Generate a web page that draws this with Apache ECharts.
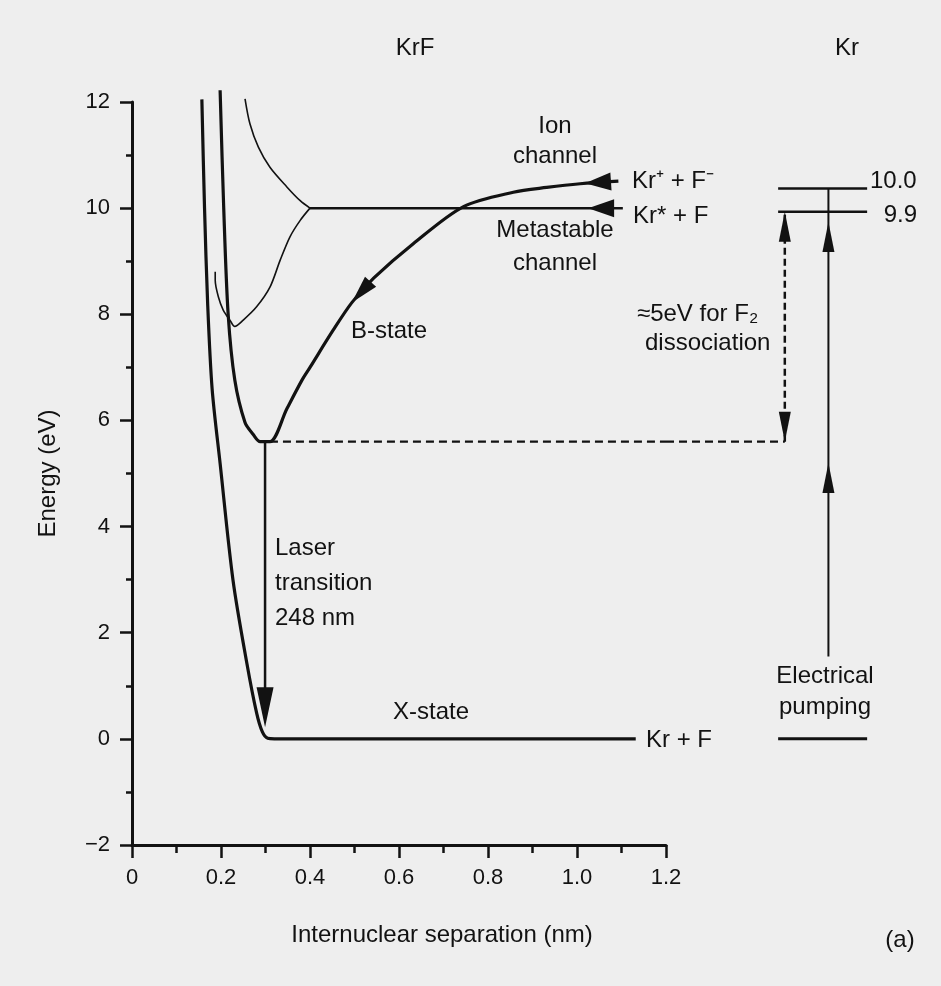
<!DOCTYPE html>
<html><head><meta charset="utf-8">
<script src="https://cdn.jsdelivr.net/npm/echarts/dist/echarts.min.js"></script>
<style>html,body{margin:0;padding:0;background:#eeeeee}#c{width:941px;height:986px}</style>
</head><body><div id="c"></div><script>
// ---- data (x: internuclear separation in nm, y: energy in eV) ----
const xTickLabels = ['0','0.2','0.4','0.6','0.8','1.0','1.2'];
const yTickLabels = ['\u22122','0','2','4','6','8','10','12'];

const xStateCurve = [[0.157,12.05],[0.163,10.0],[0.170,8.2],[0.180,6.6],[0.198,5.19],[0.227,2.99],[0.258,1.43],[0.280,0.49],[0.293,0.13],[0.305,0.01],[0.32,0],[1.132,0]];
const bStateCurve = [[0.198,12.22],[0.206,10.03],[0.216,8.01],[0.231,6.76],[0.254,5.96],[0.272,5.74],[0.288,5.6],[0.31,5.6],[0.348,6.22],[0.382,6.76],[0.4,7.0],[0.452,7.7],[0.494,8.22],[0.543,8.68],[0.632,9.33],[0.745,10.03],[0.857,10.3],[0.932,10.39],[1.007,10.46],[1.093,10.51]];
const upperThinCurve = [[0.254,12.06],[0.265,11.59],[0.284,11.15],[0.310,10.77],[0.348,10.4],[0.378,10.14],[0.4,10.0]];
const lowerThinCurve = [[0.187,8.8],[0.187,8.64],[0.194,8.33],[0.205,8.08],[0.220,7.89],[0.231,7.77],[0.250,7.89],[0.280,8.14],[0.310,8.51],[0.333,9.02],[0.355,9.46],[0.378,9.77],[0.4,10.0]];
const metastableLine = [[0.4,10.0],[1.103,10.0]];
const bMinDashedKrF = [[0.31,5.6],[1.2,5.6]];
const bMinDashedKr = [[1.2,5.6],[1.467,5.6]];
const laserTransition = [[0.299,5.6],[0.299,0.6]];
const krGround = [[1.452,0],[1.652,0]];
const krLevel99 = [[1.452,9.93],[1.652,9.93]];
const krLevel100 = [[1.452,10.37],[1.652,10.37]];
const dissociationArrow = [[1.467,5.6],[1.467,9.93]];
const pumpingArrow = [[1.565,1.55],[1.565,10.37]];
// arrow heads: [tipX, tipY, fromX, fromY]
const arrowHeads = [
  [0.299,0.22,0.299,5.6],
  [0.494,8.22,0.55,8.74],
  [1.018,10.47,1.09,10.51],
  [1.025,10.0,1.1,10.0],
  [1.467,9.93,1.467,5.6],
  [1.467,5.6,1.467,9.93],
  [1.565,9.74,1.565,1.55],
  [1.565,5.2,1.565,1.55]
];

// ---- styles ----
const INK = '#121212';
const FONT = '"Liberation Sans", Arial, Helvetica, sans-serif';
const arrowSize = [[40,17],[28,15],[26,18],[26,18],[30,12],[30,12],[30,12],[30,12]];

function lineSeries(data, width, opts) {
  return Object.assign({
    type: 'line', data: data, symbol: 'none', clip: false, silent: true,
    lineStyle: { color: INK, width: width }, z: 3
  }, opts || {});
}
function krSeries(data, width, opts) {
  return lineSeries(data, width, Object.assign({ xAxisIndex: 1, yAxisIndex: 1 }, opts || {}));
}

function txt(text, x, y, align, extra) {
  return { type: 'text', x: x, y: y, silent: true, style: Object.assign({
    text: text, fill: INK, fontSize: 24, fontFamily: FONT,
    align: align || 'center', verticalAlign: 'middle',
    textAlign: align || 'center', textVerticalAlign: 'middle'
  }, extra || {}) };
}

const chart = echarts.init(document.getElementById('c'), null, { renderer: 'canvas' });
chart.setOption({
  backgroundColor: '#eeeeee',
  animation: false,
  grid: [
    { left: 132, right: 275, top: 102, bottom: 141, containLabel: false },
    { left: 666, right: 0, top: 102, bottom: 141, containLabel: false }
  ],
  xAxis: [{
    type: 'value', min: 0, max: 1.2, interval: 0.2, gridIndex: 0,
    axisLine: { onZero: false, lineStyle: { color: INK, width: 3 } },
    axisTick: { show: true, length: 13, lineStyle: { color: INK, width: 2.5 } },
    minorTick: { show: true, splitNumber: 2, length: 8, lineStyle: { color: INK, width: 2.5 } },
    splitLine: { show: false }, minorSplitLine: { show: false },
    axisLabel: { color: INK, fontSize: 22, fontFamily: FONT, margin: 22,
      formatter: v => xTickLabels[Math.round(v / 0.2)] },
    name: 'Internuclear separation (nm)', nameLocation: 'middle', nameGap: 78,
    nameTextStyle: { color: INK, fontSize: 24, fontFamily: FONT, padding: [0, 0, 0, 86] }
  }, {
    type: 'value', min: 1.2, max: 1.818, gridIndex: 1, show: false
  }],
  yAxis: [{
    type: 'value', min: -2, max: 12, interval: 2, gridIndex: 0,
    axisLine: { onZero: false, lineStyle: { color: INK, width: 3 } },
    axisTick: { show: true, length: 12, lineStyle: { color: INK, width: 2.5 } },
    minorTick: { show: true, splitNumber: 2, length: 6, lineStyle: { color: INK, width: 2.5 } },
    splitLine: { show: false }, minorSplitLine: { show: false },
    axisLabel: { color: INK, fontSize: 22, fontFamily: FONT, margin: 22,
      formatter: v => yTickLabels[Math.round((v + 2) / 2)] },
    name: 'Energy (eV)', nameLocation: 'middle', nameGap: 72,
    nameTextStyle: { color: INK, fontSize: 24, fontFamily: FONT }
  }, {
    type: 'value', min: -2, max: 12, gridIndex: 1, show: false
  }],
  series: [
    lineSeries(xStateCurve, 3.2, { smooth: 0.3 }),
    lineSeries(bStateCurve, 3.2, { smooth: 0.3 }),
    lineSeries(upperThinCurve, 1.6, { smooth: 0.3 }),
    lineSeries(lowerThinCurve, 1.6, { smooth: 0.3 }),
    lineSeries(metastableLine, 2.5),
    lineSeries(bMinDashedKrF, 2.2, { lineStyle: { color: INK, width: 2.2, type: [8, 5] } }),
    lineSeries(laserTransition, 2.5),
    krSeries(bMinDashedKr, 2.2, { lineStyle: { color: INK, width: 2.2, type: [8, 5] } }),
    krSeries(krGround, 3),
    krSeries(krLevel99, 2.5),
    krSeries(krLevel100, 2.5),
    krSeries(dissociationArrow, 2.5, { lineStyle: { color: INK, width: 2.5, type: [7, 4] } }),
    krSeries(pumpingArrow, 2),
    {
      type: 'custom', data: arrowHeads, clip: false, silent: true, z: 5,
      encode: { x: 0, y: 1 },
      renderItem: function (params, api) {
        const tip = api.coord([api.value(0), api.value(1)]);
        const from = api.coord([api.value(2), api.value(3)]);
        const s = arrowSize[params.dataIndex];
        let dx = tip[0] - from[0], dy = tip[1] - from[1];
        const d = Math.hypot(dx, dy) || 1; dx /= d; dy /= d;
        const bx = tip[0] - dx * s[0], by = tip[1] - dy * s[0];
        const px = -dy * s[1] / 2, py = dx * s[1] / 2;
        return { type: 'polygon', shape: { points: [tip, [bx + px, by + py], [bx - px, by - py]] },
          style: { fill: INK } };
      }
    }
  ],
  graphic: [
    txt('KrF', 415, 48),
    txt('Kr', 847, 48),
    txt('Ion\nchannel', 555, 141, 'center', { lineHeight: 30 }),
    txt('Metastable\nchannel', 555, 247, 'center', { lineHeight: 33 }),
    txt('Kr\u207A + F\u207B', 632, 181, 'left'),
    txt('Kr* + F', 633, 216, 'left'),
    txt('B-state', 389, 331),
    txt('\u22485eV for F\u2082', 637, 314, 'left'),
    txt('dissociation', 645, 343, 'left'),
    txt('10.0', 870, 181, 'left'),
    txt('9.9', 917, 215, 'right'),
    txt('Laser\ntransition\n248 nm', 275, 583, 'left', { lineHeight: 35 }),
    txt('X-state', 431, 712),
    txt('Kr + F', 646, 740, 'left'),
    txt('Electrical\npumping', 825, 692, 'center', { lineHeight: 31 }),
    txt('(a)', 900, 940)
  ]
});
</script></body></html>
